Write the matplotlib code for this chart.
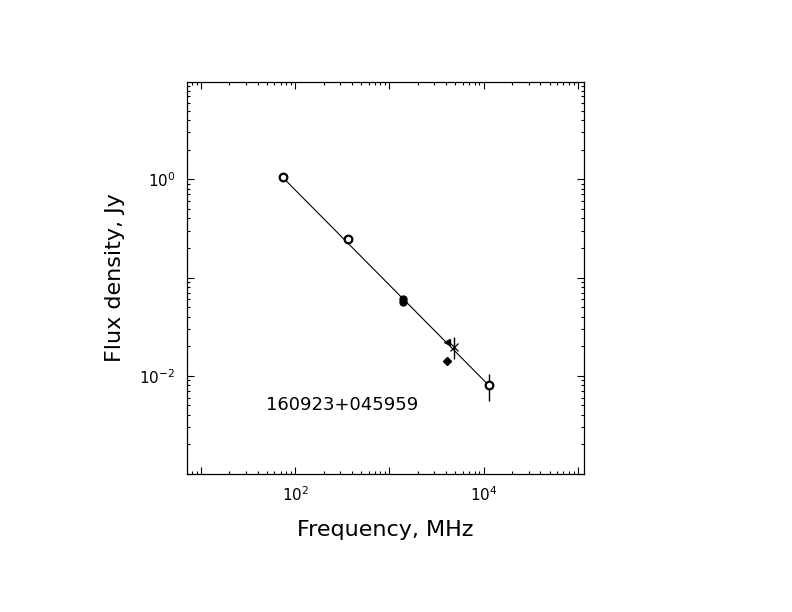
import matplotlib
matplotlib.use("Agg")
import matplotlib.pyplot as plt
from matplotlib.ticker import LogLocator, FuncFormatter, NullFormatter
import numpy as np

# ---- data ----
open_freq = [74, 365, 11300]
open_flux = [1.06, 0.245, 0.0080]
open_err = [0.095, 0.01, 0.0025]

nvss_freq = [1400, 1400]
nvss_flux = [0.0605, 0.0565]

tri_freq = [4040]
tri_flux = [0.0223]

dia_freq = [4030]
dia_flux = [0.0141]

x_freq = [4850]
x_flux = [0.0198]
x_err = [0.005]

fit_freq = [74, 11300]
fit_flux = [1.04, 0.0080]

source_name = "160923+045959"
x_label = "Frequency, MHz"
y_label = "Flux density, Jy"

plt.rcParams['font.family'] = ['DejaVu Sans']
plt.rcParams['mathtext.fontset'] = 'dejavusans'

fig = plt.figure(figsize=(7.92, 6.12), dpi=100)
ax = fig.add_axes([0.2357, 0.2255, 0.5017, 0.641])
ax.set_xscale('log')
ax.set_yscale('log')
ax.set_xlim(10**0.848, 10**5.064)
ax.set_ylim(1e-3, 10**0.993)

ax.plot(fit_freq, fit_flux, color='black', lw=0.8, zorder=2)

ax.errorbar(open_freq, open_flux, yerr=open_err, fmt='o', ms=5.5, mfc='white',
            mec='black', mew=1.6, ecolor='black', elinewidth=1.0, capsize=0, zorder=3)
ax.plot(nvss_freq, nvss_flux, 'o', ms=5, color='black', zorder=3)
ax.plot(tri_freq, tri_flux, '<', ms=5, color='black', zorder=3)
ax.plot(dia_freq, dia_flux, 'D', ms=4, color='black', zorder=3)
ax.errorbar(x_freq, x_flux, yerr=x_err, fmt='x', ms=6, mec='black', mew=0.9,
            ecolor='black', elinewidth=1.0, capsize=0, zorder=3)

def fmt(v, pos):
    e = int(round(np.log10(v)))
    if e % 2 == 0:
        return r'$10^{%d}$' % e
    return ''

for axis in (ax.xaxis, ax.yaxis):
    axis.set_major_locator(LogLocator(base=10, numticks=20))
    axis.set_minor_locator(LogLocator(base=10, subs=np.arange(2, 10), numticks=20))
    axis.set_major_formatter(FuncFormatter(fmt))
    axis.set_minor_formatter(NullFormatter())

ax.tick_params(which='both', direction='in', top=True, right=True, color='black')
ax.tick_params(which='major', length=5, width=0.8, labelsize=11, pad=8)
ax.tick_params(which='minor', length=2.5, width=0.8)
for s in ax.spines.values():
    s.set_linewidth(0.9)

ax.set_xlabel(x_label, fontsize=16, labelpad=12)
ax.set_ylabel(y_label, fontsize=16, labelpad=10)

ax.text(0.2, 0.176, source_name, transform=ax.transAxes, fontsize=13,
        ha='left', va='center')

fig.savefig('out.png', dpi=100)
